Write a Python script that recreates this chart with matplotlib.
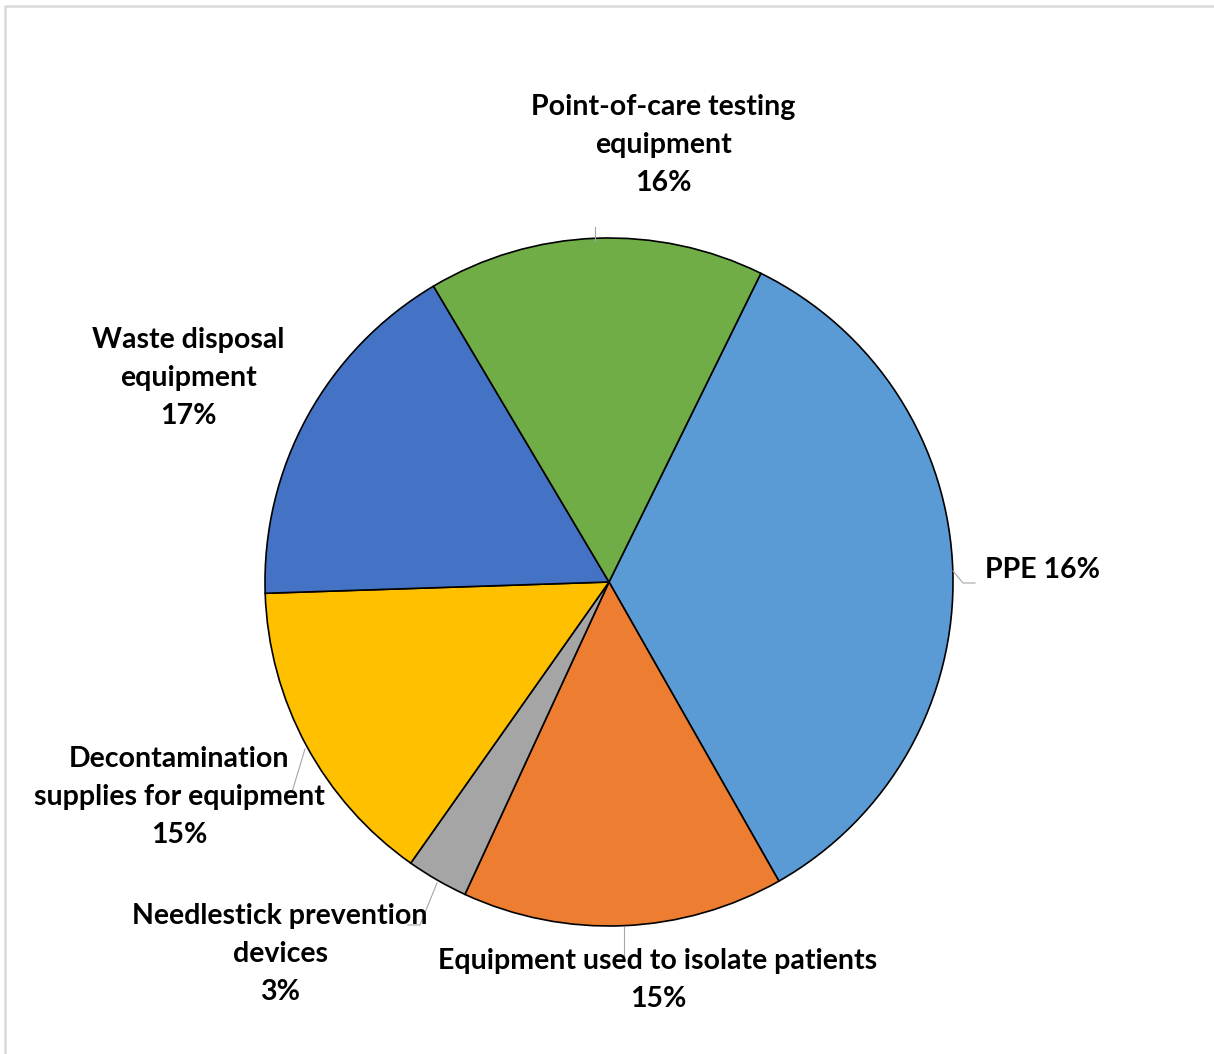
import matplotlib.pyplot as plt
from matplotlib.lines import Line2D

# slice sizes (clockwise from the green/blue edge)
categories = ['PPE', 'Equipment used to isolate patients', 'Needlestick prevention devices',
              'Decontamination supplies for equipment', 'Waste disposal equipment',
              'Point-of-care testing equipment']
values = [34.5, 15.1, 2.9, 14.7, 17.0, 15.8]
colors = ['#5B9BD5', '#ED7D31', '#A5A5A5', '#FFC000', '#4472C4', '#70AD47']

# label texts as printed on the chart
label_texts = ['PPE 16%',
               'Equipment used to isolate patients\n15%',
               'Needlestick prevention\ndevices\n3%',
               'Decontamination\nsupplies for equipment\n15%',
               'Waste disposal\nequipment\n17%',
               'Point-of-care testing\nequipment\n16%']

W, H = 1214, 1054
fig = plt.figure(figsize=(W / 100, H / 100), dpi=100)
ax = fig.add_axes([0, 0, 1, 1])

def Y(y):
    return H - y

cx, cy, r = 609, Y(582), 344
ax.pie(values, colors=colors, startangle=63.8, counterclock=False,
       center=(cx, cy), radius=r,
       wedgeprops=dict(edgecolor='black', linewidth=1.2))

ax.set_xlim(0, W)
ax.set_ylim(0, H)
ax.set_aspect('equal')
ax.axis('off')

# labels
font = dict(family=['Lato', 'DejaVu Sans'], fontweight='bold', fontsize=20.5, color='black')
pos = [(985, 570, 'left'), (658, 980, 'center'), (280, 954, 'center'),
       (179, 797, 'center'), (188, 378, 'center'), (663, 145, 'center')]
for t, (x, y, ha) in zip(label_texts, pos):
    ax.text(x, Y(y), t, ha=ha, va='center', linespacing=1.55, **font)

# leader lines
leaders = [[(953, 571), (963, 583), (975, 583)],
           [(624, 927), (624, 958)],
           [(437, 883), (420, 925), (408, 925)],
           [(305, 749), (292, 792), (285, 792)],
           [(595, 241), (595, 227)]]
for pts in leaders:
    ax.add_line(Line2D([p[0] for p in pts], [Y(p[1]) for p in pts],
                       color='#A6A6A6', lw=0.8))

# frame remnants of the screenshot (top and left edges)
ax.add_line(Line2D([5, 5, W], [0, Y(6), Y(6)], color='#D9D9D9', lw=1.8))

fig.savefig('out.png', dpi=100)
